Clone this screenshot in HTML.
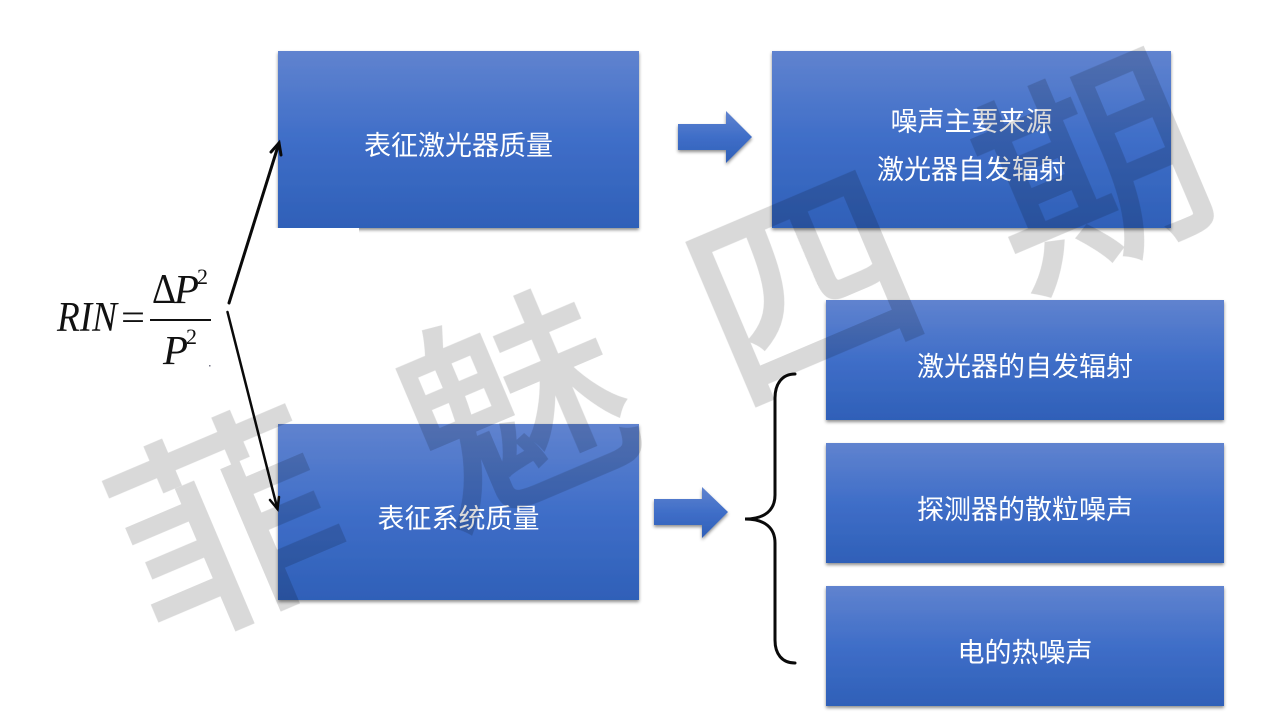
<!DOCTYPE html>
<html><head><meta charset="utf-8">
<style>
html,body{margin:0;padding:0;background:#fff;width:1280px;height:720px;overflow:hidden}
svg{display:block}
.t{font-family:"Liberation Sans","Noto Sans CJK SC",sans-serif;font-size:27px;font-weight:400;fill:#fff;text-anchor:middle}
.m{font-family:"Liberation Serif",serif;fill:#111}
.wm{font-family:"Noto Sans CJK SC",sans-serif;font-size:220px;font-weight:400;fill:#000;stroke:#000;stroke-width:4;text-anchor:middle}
</style></head><body>
<svg width="1280" height="720" viewBox="0 0 1280 720" xmlns="http://www.w3.org/2000/svg">
<defs>
<linearGradient id="g" x1="0" y1="0" x2="0" y2="1">
<stop offset="0" stop-color="#6083cf"/><stop offset=".5" stop-color="#3f6ec8"/><stop offset="1" stop-color="#2f60b8"/>
</linearGradient>
<filter id="s" x="-5%" y="-5%" width="110%" height="115%">
<feDropShadow dx="0" dy="2" stdDeviation="1.600" flood-color="#000" flood-opacity=".45"/>
</filter>
</defs>
<rect width="1280" height="720" fill="#fff"/>

<g filter="url(#s)">
<rect x="278" y="51" width="361" height="177" fill="url(#g)"/>
</g>
<rect x="270" y="228" width="89" height="10" fill="#fff"/>
<g filter="url(#s)">
<rect x="772" y="51" width="399" height="177" fill="url(#g)"/>
<rect x="278" y="424" width="361" height="176" fill="url(#g)"/>
<rect x="826" y="300" width="398" height="120" fill="url(#g)"/>
<rect x="826" y="443" width="398" height="120" fill="url(#g)"/>
<rect x="826" y="586" width="398" height="120" fill="url(#g)"/>
<polygon points="678,124 726,124 726,111 752,137 726,163 726,150 678,150" fill="url(#g)"/>
<polygon points="654,499 702,499 702,487 728,512 702,538 702,525 654,525" fill="url(#g)"/>
</g>

<text class="t" x="458.500" y="155">表征激光器质量</text>
<text class="t" x="458.500" y="528">表征系统质量</text>
<text class="t" x="971.500" y="131">噪声主要来源</text>
<text class="t" x="971.500" y="179">激光器自发辐射</text>
<text class="t" x="1025" y="376">激光器的自发辐射</text>
<text class="t" x="1025" y="519">探测器的散粒噪声</text>
<text class="t" x="1025" y="662">电的热噪声</text>

<!-- formula -->
<text class="m" x="57" y="331" font-size="42" font-style="italic" textLength="60" lengthAdjust="spacingAndGlyphs">RIN</text>
<text class="m" x="121" y="330" font-size="38" textLength="24" lengthAdjust="spacingAndGlyphs">=</text>
<text class="m" x="152" y="303" font-size="42" textLength="24" lengthAdjust="spacingAndGlyphs">Δ</text>
<text class="m" x="174" y="303" font-size="41" font-style="italic">P</text>
<text class="m" x="197" y="284" font-size="22">2</text>
<rect x="150" y="319" width="61" height="2" fill="#111"/>
<text class="m" x="163" y="364" font-size="41" font-style="italic">P</text>
<text class="m" x="186" y="344" font-size="22">2</text>
<rect x="209" y="365" width="1.500" height="1.500" fill="#778"/>

<!-- connectors -->
<g fill="none" stroke="#0a0a0a" stroke-linecap="round" stroke-linejoin="miter">
<g stroke-width="3">
<path d="M229 303 L279 143"/>
<path d="M271 152 L279 143 L281 155"/>
</g>
<g stroke-width="2.500">
<path d="M227.500 312 L277.500 509"/>
<path d="M270 500 L277.500 509 L279 497"/>
</g>
<path stroke-width="3" d="M795 374 C782 374 775 384 775 398 L775 495 C775 510 765 519 745 519 C765 519 775 528 775 543 L775 640 C775 654 782 663 795 663"/>
</g>

<!-- watermark -->
<g opacity=".15">
<text class="wm" transform="translate(260,600) rotate(-23)">菲</text>
<text class="wm" transform="translate(548,481) rotate(-23)">魅</text>
<text class="wm" transform="translate(836,360) rotate(-23)">四</text>
<text class="wm" transform="translate(1124,245) rotate(-23)">期</text>
</g>
</svg>
</body></html>
